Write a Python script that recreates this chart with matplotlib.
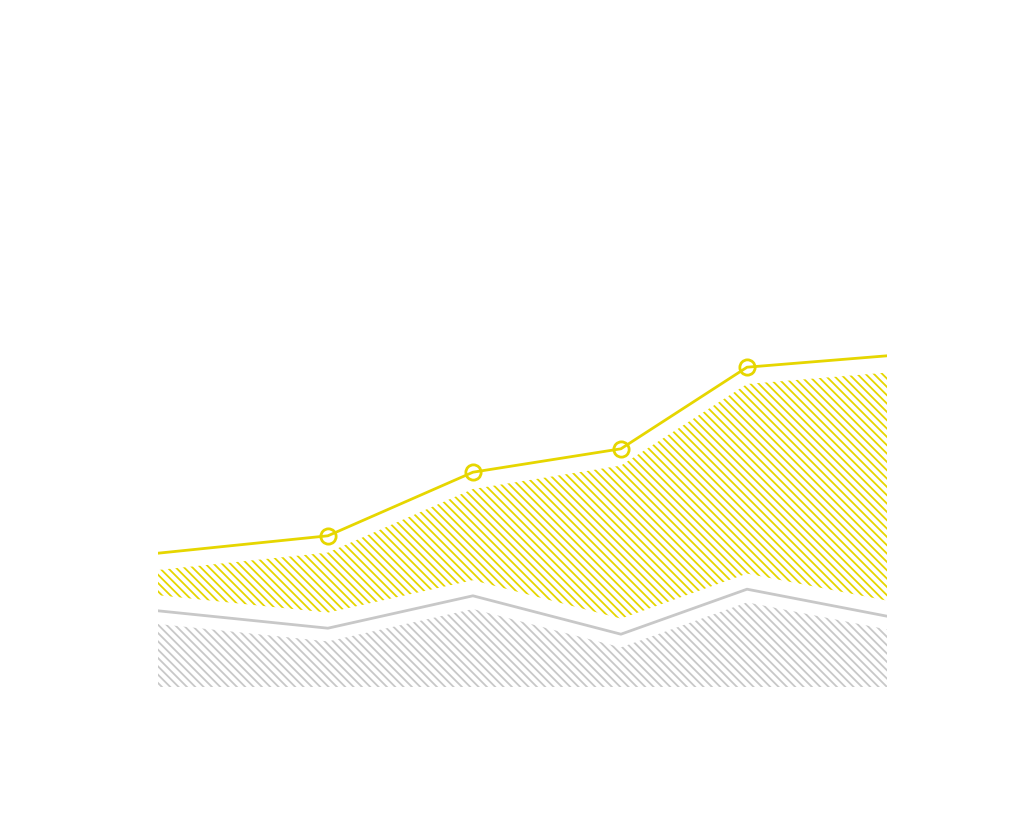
import matplotlib
matplotlib.use("Agg")
import matplotlib.pyplot as plt
import numpy as np

# data
x_vals = [0.0, 23.3, 43.2, 63.5, 80.8, 100.0]
gray_vals = [12.7, 9.8, 15.2, 8.8, 16.3, 11.8]
yellow_stack = [9.6, 15.4, 20.6, 30.9, 37.0, 43.4]
marker_idx = [1, 2, 3, 4]

YELLOW = "#e6d600"
GRAY = "#c8c8c8"

plt.rcParams["hatch.linewidth"] = 1.3

fig = plt.figure(figsize=(10.24, 8.19), dpi=100)
ax = fig.add_axes([158/1024, (819-687)/819, (887-158)/1024, 600/819])
ax.set_xlim(0, 100)
ax.set_ylim(0, 100)
ax.axis("off")

x = np.array(x_vals)
g = np.array(gray_vals)
y = g + np.array(yellow_stack)

# gray hatch band
ax.fill_between(x, 0, g - 2.2, facecolor="none", edgecolor=GRAY, hatch="\\\\\\\\", linewidth=0)
# yellow hatch band
ax.fill_between(x, g + 2.6, y - 2.8, facecolor="none", edgecolor=YELLOW, hatch="\\\\\\\\", linewidth=0)

ax.plot(x, g, color=GRAY, lw=2.0)
ax.plot(x, y, color=YELLOW, lw=2.0)
ax.plot(x[marker_idx], y[marker_idx], linestyle="none", marker="o", ms=11,
        mfc="none", mec=YELLOW, mew=2.0)

fig.savefig("out.png", dpi=100)
